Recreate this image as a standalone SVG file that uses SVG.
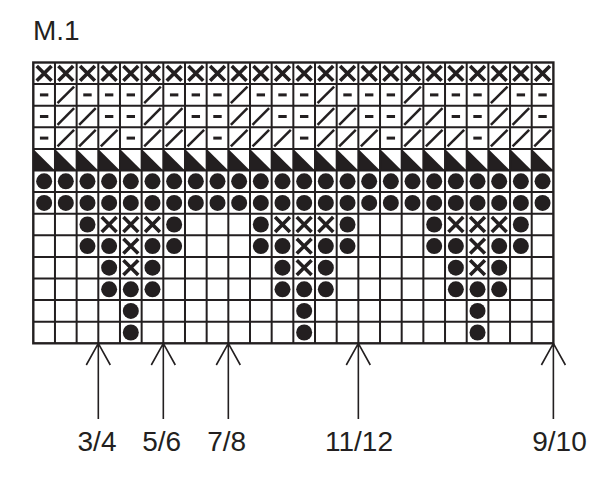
<svg xmlns="http://www.w3.org/2000/svg" xmlns:xlink="http://www.w3.org/1999/xlink" width="600" height="503" viewBox="0 0 600 503">
<style>
.ink{fill:#231f20}
.lbl{font-family:"Liberation Sans",Arial,sans-serif;font-size:28px;fill:#231f20;text-anchor:middle}
.grid{fill:none;stroke:#231f20;stroke-width:2}
.arr{fill:none;stroke:#231f20;stroke-width:1.6}
</style>
<defs>
<path id="x" d="M-7.4,-7.4L7.4,7.4M7.4,-7.4L-7.4,7.4" stroke="#231f20" stroke-width="3.6" fill="none"/>
<rect id="d" x="-4.2" y="-1.5" width="8.4" height="3" fill="#231f20"/>
<line id="s" x1="-8.3" y1="8.3" x2="8.3" y2="-8.3" stroke="#231f20" stroke-width="2.5"/>
<circle id="o" r="8" fill="#231f20"/>
<polygon id="t" points="-10.84,-10.8 -10.84,10.8 10.84,10.8" fill="#231f20"/>
</defs>
<rect x="0" y="0" width="600" height="503" fill="#fff"/>
<text x="33" y="40" class="lbl" style="font-size:28px;text-anchor:start">M.1</text>
<g id="chart">
<g id="row0">
<use href="#x" x="44.13" y="73.3"/><use href="#x" x="65.80" y="73.3"/><use href="#x" x="87.47" y="73.3"/><use href="#x" x="109.14" y="73.3"/><use href="#x" x="130.81" y="73.3"/><use href="#x" x="152.48" y="73.3"/><use href="#x" x="174.15" y="73.3"/><use href="#x" x="195.82" y="73.3"/><use href="#x" x="217.49" y="73.3"/><use href="#x" x="239.16" y="73.3"/><use href="#x" x="260.83" y="73.3"/><use href="#x" x="282.50" y="73.3"/><use href="#x" x="304.17" y="73.3"/><use href="#x" x="325.84" y="73.3"/><use href="#x" x="347.51" y="73.3"/><use href="#x" x="369.18" y="73.3"/><use href="#x" x="390.85" y="73.3"/><use href="#x" x="412.52" y="73.3"/><use href="#x" x="434.19" y="73.3"/><use href="#x" x="455.86" y="73.3"/><use href="#x" x="477.53" y="73.3"/><use href="#x" x="499.20" y="73.3"/><use href="#x" x="520.87" y="73.3"/><use href="#x" x="542.54" y="73.3"/>
</g>
<g id="row1">
<use href="#d" x="44.13" y="94.9"/><use href="#s" x="65.80" y="94.9"/><use href="#d" x="87.47" y="94.9"/><use href="#d" x="109.14" y="94.9"/><use href="#d" x="130.81" y="94.9"/><use href="#s" x="152.48" y="94.9"/><use href="#d" x="174.15" y="94.9"/><use href="#d" x="195.82" y="94.9"/><use href="#d" x="217.49" y="94.9"/><use href="#s" x="239.16" y="94.9"/><use href="#d" x="260.83" y="94.9"/><use href="#d" x="282.50" y="94.9"/><use href="#d" x="304.17" y="94.9"/><use href="#s" x="325.84" y="94.9"/><use href="#d" x="347.51" y="94.9"/><use href="#d" x="369.18" y="94.9"/><use href="#d" x="390.85" y="94.9"/><use href="#s" x="412.52" y="94.9"/><use href="#d" x="434.19" y="94.9"/><use href="#d" x="455.86" y="94.9"/><use href="#d" x="477.53" y="94.9"/><use href="#s" x="499.20" y="94.9"/><use href="#d" x="520.87" y="94.9"/><use href="#d" x="542.54" y="94.9"/>
</g>
<g id="row2">
<use href="#d" x="44.13" y="116.5"/><use href="#s" x="65.80" y="116.5"/><use href="#s" x="87.47" y="116.5"/><use href="#d" x="109.14" y="116.5"/><use href="#d" x="130.81" y="116.5"/><use href="#s" x="152.48" y="116.5"/><use href="#s" x="174.15" y="116.5"/><use href="#d" x="195.82" y="116.5"/><use href="#d" x="217.49" y="116.5"/><use href="#s" x="239.16" y="116.5"/><use href="#s" x="260.83" y="116.5"/><use href="#d" x="282.50" y="116.5"/><use href="#d" x="304.17" y="116.5"/><use href="#s" x="325.84" y="116.5"/><use href="#s" x="347.51" y="116.5"/><use href="#d" x="369.18" y="116.5"/><use href="#d" x="390.85" y="116.5"/><use href="#s" x="412.52" y="116.5"/><use href="#s" x="434.19" y="116.5"/><use href="#d" x="455.86" y="116.5"/><use href="#d" x="477.53" y="116.5"/><use href="#s" x="499.20" y="116.5"/><use href="#s" x="520.87" y="116.5"/><use href="#d" x="542.54" y="116.5"/>
</g>
<g id="row3">
<use href="#d" x="44.13" y="138.1"/><use href="#s" x="65.80" y="138.1"/><use href="#s" x="87.47" y="138.1"/><use href="#s" x="109.14" y="138.1"/><use href="#d" x="130.81" y="138.1"/><use href="#s" x="152.48" y="138.1"/><use href="#s" x="174.15" y="138.1"/><use href="#s" x="195.82" y="138.1"/><use href="#d" x="217.49" y="138.1"/><use href="#s" x="239.16" y="138.1"/><use href="#s" x="260.83" y="138.1"/><use href="#s" x="282.50" y="138.1"/><use href="#d" x="304.17" y="138.1"/><use href="#s" x="325.84" y="138.1"/><use href="#s" x="347.51" y="138.1"/><use href="#s" x="369.18" y="138.1"/><use href="#d" x="390.85" y="138.1"/><use href="#s" x="412.52" y="138.1"/><use href="#s" x="434.19" y="138.1"/><use href="#s" x="455.86" y="138.1"/><use href="#d" x="477.53" y="138.1"/><use href="#s" x="499.20" y="138.1"/><use href="#s" x="520.87" y="138.1"/><use href="#s" x="542.54" y="138.1"/>
</g>
<g id="row4">
<use href="#t" x="44.13" y="159.7"/><use href="#t" x="65.80" y="159.7"/><use href="#t" x="87.47" y="159.7"/><use href="#t" x="109.14" y="159.7"/><use href="#t" x="130.81" y="159.7"/><use href="#t" x="152.48" y="159.7"/><use href="#t" x="174.15" y="159.7"/><use href="#t" x="195.82" y="159.7"/><use href="#t" x="217.49" y="159.7"/><use href="#t" x="239.16" y="159.7"/><use href="#t" x="260.83" y="159.7"/><use href="#t" x="282.50" y="159.7"/><use href="#t" x="304.17" y="159.7"/><use href="#t" x="325.84" y="159.7"/><use href="#t" x="347.51" y="159.7"/><use href="#t" x="369.18" y="159.7"/><use href="#t" x="390.85" y="159.7"/><use href="#t" x="412.52" y="159.7"/><use href="#t" x="434.19" y="159.7"/><use href="#t" x="455.86" y="159.7"/><use href="#t" x="477.53" y="159.7"/><use href="#t" x="499.20" y="159.7"/><use href="#t" x="520.87" y="159.7"/><use href="#t" x="542.54" y="159.7"/>
</g>
<g id="row5">
<use href="#o" x="44.13" y="181.3"/><use href="#o" x="65.80" y="181.3"/><use href="#o" x="87.47" y="181.3"/><use href="#o" x="109.14" y="181.3"/><use href="#o" x="130.81" y="181.3"/><use href="#o" x="152.48" y="181.3"/><use href="#o" x="174.15" y="181.3"/><use href="#o" x="195.82" y="181.3"/><use href="#o" x="217.49" y="181.3"/><use href="#o" x="239.16" y="181.3"/><use href="#o" x="260.83" y="181.3"/><use href="#o" x="282.50" y="181.3"/><use href="#o" x="304.17" y="181.3"/><use href="#o" x="325.84" y="181.3"/><use href="#o" x="347.51" y="181.3"/><use href="#o" x="369.18" y="181.3"/><use href="#o" x="390.85" y="181.3"/><use href="#o" x="412.52" y="181.3"/><use href="#o" x="434.19" y="181.3"/><use href="#o" x="455.86" y="181.3"/><use href="#o" x="477.53" y="181.3"/><use href="#o" x="499.20" y="181.3"/><use href="#o" x="520.87" y="181.3"/><use href="#o" x="542.54" y="181.3"/>
</g>
<g id="row6">
<use href="#o" x="44.13" y="202.9"/><use href="#o" x="65.80" y="202.9"/><use href="#o" x="87.47" y="202.9"/><use href="#o" x="109.14" y="202.9"/><use href="#o" x="130.81" y="202.9"/><use href="#o" x="152.48" y="202.9"/><use href="#o" x="174.15" y="202.9"/><use href="#o" x="195.82" y="202.9"/><use href="#o" x="217.49" y="202.9"/><use href="#o" x="239.16" y="202.9"/><use href="#o" x="260.83" y="202.9"/><use href="#o" x="282.50" y="202.9"/><use href="#o" x="304.17" y="202.9"/><use href="#o" x="325.84" y="202.9"/><use href="#o" x="347.51" y="202.9"/><use href="#o" x="369.18" y="202.9"/><use href="#o" x="390.85" y="202.9"/><use href="#o" x="412.52" y="202.9"/><use href="#o" x="434.19" y="202.9"/><use href="#o" x="455.86" y="202.9"/><use href="#o" x="477.53" y="202.9"/><use href="#o" x="499.20" y="202.9"/><use href="#o" x="520.87" y="202.9"/><use href="#o" x="542.54" y="202.9"/>
</g>
<g id="motif1">
<use href="#o" x="87.47" y="224.5"/><use href="#x" x="109.14" y="224.5"/><use href="#x" x="130.81" y="224.5"/><use href="#x" x="152.48" y="224.5"/><use href="#o" x="174.15" y="224.5"/>
<use href="#o" x="87.47" y="246.1"/><use href="#o" x="109.14" y="246.1"/><use href="#x" x="130.81" y="246.1"/><use href="#o" x="152.48" y="246.1"/><use href="#o" x="174.15" y="246.1"/>
<use href="#o" x="109.14" y="267.7"/><use href="#x" x="130.81" y="267.7"/><use href="#o" x="152.48" y="267.7"/>
<use href="#o" x="109.14" y="289.3"/><use href="#o" x="130.81" y="289.3"/><use href="#o" x="152.48" y="289.3"/>
<use href="#o" x="130.81" y="310.9"/>
<use href="#o" x="130.81" y="332.5"/>
</g>
<g id="motif2">
<use href="#o" x="260.83" y="224.5"/><use href="#x" x="282.50" y="224.5"/><use href="#x" x="304.17" y="224.5"/><use href="#x" x="325.84" y="224.5"/><use href="#o" x="347.51" y="224.5"/>
<use href="#o" x="260.83" y="246.1"/><use href="#o" x="282.50" y="246.1"/><use href="#x" x="304.17" y="246.1"/><use href="#o" x="325.84" y="246.1"/><use href="#o" x="347.51" y="246.1"/>
<use href="#o" x="282.50" y="267.7"/><use href="#x" x="304.17" y="267.7"/><use href="#o" x="325.84" y="267.7"/>
<use href="#o" x="282.50" y="289.3"/><use href="#o" x="304.17" y="289.3"/><use href="#o" x="325.84" y="289.3"/>
<use href="#o" x="304.17" y="310.9"/>
<use href="#o" x="304.17" y="332.5"/>
</g>
<g id="motif3">
<use href="#o" x="434.19" y="224.5"/><use href="#x" x="455.86" y="224.5"/><use href="#x" x="477.53" y="224.5"/><use href="#x" x="499.20" y="224.5"/><use href="#o" x="520.87" y="224.5"/>
<use href="#o" x="434.19" y="246.1"/><use href="#o" x="455.86" y="246.1"/><use href="#x" x="477.53" y="246.1"/><use href="#o" x="499.20" y="246.1"/><use href="#o" x="520.87" y="246.1"/>
<use href="#o" x="455.86" y="267.7"/><use href="#x" x="477.53" y="267.7"/><use href="#o" x="499.20" y="267.7"/>
<use href="#o" x="455.86" y="289.3"/><use href="#o" x="477.53" y="289.3"/><use href="#o" x="499.20" y="289.3"/>
<use href="#o" x="477.53" y="310.9"/>
<use href="#o" x="477.53" y="332.5"/>
</g>
<path id="gridlines" class="grid" d="M54.97,62.5V343.3M76.64,62.5V343.3M98.31,62.5V343.3M119.98,62.5V343.3M141.65,62.5V343.3M163.32,62.5V343.3M184.99,62.5V343.3M206.66,62.5V343.3M228.33,62.5V343.3M250.0,62.5V343.3M271.67,62.5V343.3M293.34,62.5V343.3M315.01,62.5V343.3M336.68,62.5V343.3M358.35,62.5V343.3M380.02,62.5V343.3M401.69,62.5V343.3M423.36,62.5V343.3M445.03,62.5V343.3M466.7,62.5V343.3M488.37,62.5V343.3M510.04,62.5V343.3M531.71,62.5V343.3M33.3,84.1H553.38M33.3,105.7H553.38M33.3,127.3H553.38M33.3,148.9H553.38M33.3,170.5H553.38M33.3,192.1H553.38M33.3,213.7H553.38M33.3,235.3H553.38M33.3,256.9H553.38M33.3,278.5H553.38M33.3,300.1H553.38M33.3,321.7H553.38"/>
<rect x="33.3" y="62.5" width="520.08" height="280.8" fill="none" stroke="#231f20" stroke-width="2.4"/>
</g>
<g id="connectors" class="arr">
<path d="M98.31,343.3V419M86.3,365L98.31,343.3L110.3,365"/>
<path d="M163.32,343.3V419M151.3,365L163.32,343.3L175.3,365"/>
<path d="M228.33,343.3V419M216.3,365L228.33,343.3L240.3,365"/>
<path d="M358.35,343.3V419M346.3,365L358.35,343.3L370.3,365"/>
<path d="M553.38,343.3V419M541.4,365L553.38,343.3L565.4,365"/>
</g>
<g id="labels">
<text x="97" y="451" class="lbl">3/4</text>
<text x="161.7" y="451" class="lbl">5/6</text>
<text x="226.7" y="451" class="lbl">7/8</text>
<text x="359" y="451" class="lbl">11/12</text>
<text x="559.5" y="451" class="lbl">9/10</text>
</g>
</svg>
